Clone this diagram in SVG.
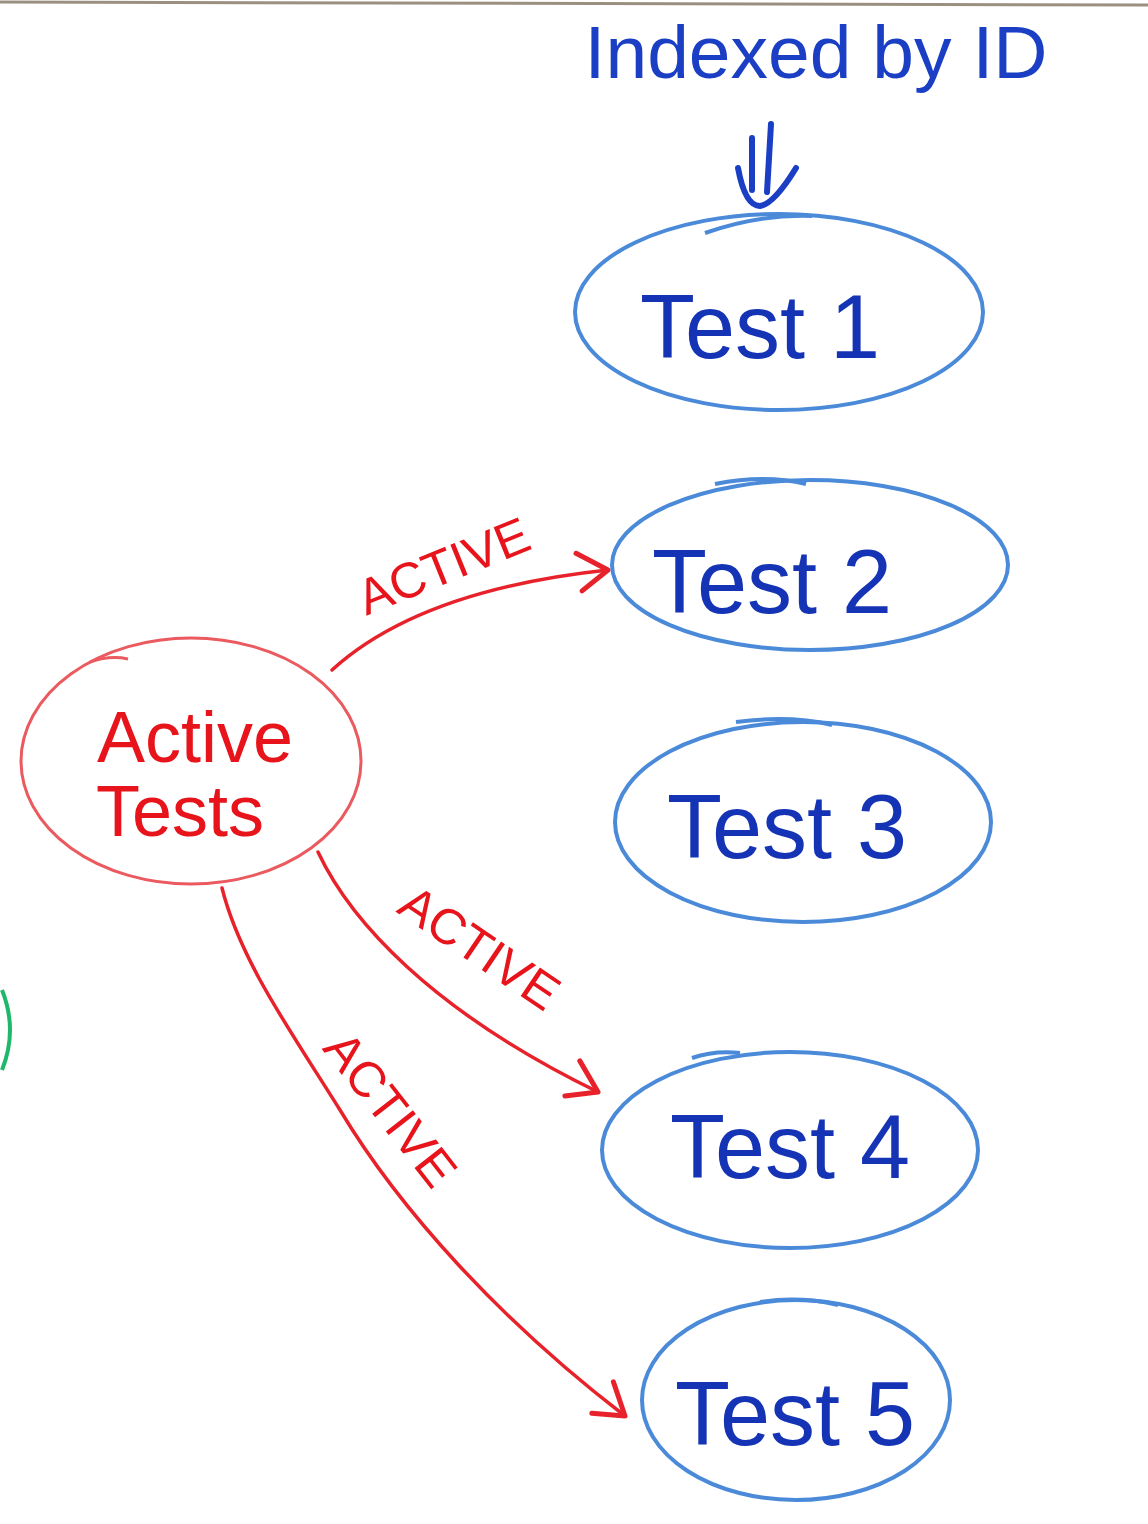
<svg xmlns="http://www.w3.org/2000/svg" width="1148" height="1524" viewBox="0 0 1148 1524">
<style>
.bg{fill:#ffffff}
.node{fill:none;stroke:#4a8ad9;stroke-width:4}
.anode{fill:none;stroke:#ea5a5f;stroke-width:3}
.ntext{font-family:"Liberation Sans",Arial,sans-serif;font-size:90px;fill:#1533b5;text-anchor:middle}
.atext{font-family:"Liberation Sans",Arial,sans-serif;font-size:72px;fill:#e8141c;text-anchor:middle}
.title{font-family:"Liberation Sans",Arial,sans-serif;font-size:75px;fill:#1a3fc4;text-anchor:middle}
.edge{fill:none;stroke:#e8222a;stroke-width:3.5;stroke-linecap:round}
.lbl{font-family:"Liberation Sans",Arial,sans-serif;font-size:50px;fill:#e8141c;text-anchor:middle}
.ink{fill:none;stroke:#1a3fc4;stroke-width:6;stroke-linecap:round;stroke-linejoin:round}
</style>
<defs>
<marker id="chev" viewBox="-40 -30 48 60" markerWidth="48" markerHeight="60" refX="0" refY="0" orient="auto" markerUnits="userSpaceOnUse">
<path d="M -30 -20 L 0 0 L -28 18" fill="none" stroke="#e8222a" stroke-width="5" stroke-linecap="round" stroke-linejoin="round"/>
</marker>
</defs>
<rect class="bg" x="0" y="0" width="1148" height="1524"/>
<line x1="0" y1="2" x2="1148" y2="5" stroke="#9a9080" stroke-width="3"/>

<g id="title">
<text class="title" x="816" y="78">Indexed by ID</text>
<path class="ink" d="M 752 138 L 752 190"/>
<path class="ink" d="M 771 124 L 767 192"/>
<path class="ink" d="M 738 168 Q 745 206 760 206 Q 774 204 796 168"/>
</g>

<g id="connectors">
<path class="edge" marker-end="url(#chev)" d="M 332 670 Q 420 590 608 570"/>
<text class="lbl" transform="translate(450,582) rotate(-22)">ACTIVE</text>
<path class="edge" marker-end="url(#chev)" d="M 318 852 C 350 920, 430 1010, 598 1092"/>
<text class="lbl" transform="translate(470,962) rotate(34)">ACTIVE</text>
<path class="edge" marker-end="url(#chev)" d="M 222 888 C 240 960, 290 1030, 340 1110 C 400 1210, 500 1320, 625 1416"/>
<text class="lbl" transform="translate(377,1120) rotate(52)">ACTIVE</text>
</g>

<g id="active-tests">
<ellipse class="anode" cx="191" cy="761" rx="170" ry="123"/>
<path class="anode" d="M 90 662 Q 110 655 128 659"/>
<text class="atext" x="195" y="762">Active</text>
<text class="atext" x="180" y="836">Tests</text>
</g>

<g id="test1">
<ellipse class="node" cx="779" cy="312" rx="204" ry="98"/>
<path class="node" d="M 705 233 Q 760 214 812 216"/>
<text class="ntext" x="760" y="358">Test 1</text>
</g>

<g id="test2">
<ellipse class="node" cx="810" cy="565" rx="198" ry="85"/>
<path class="node" d="M 715 484 Q 765 474 806 484"/>
<text class="ntext" x="772" y="613">Test 2</text>
</g>

<g id="test3">
<ellipse class="node" cx="803" cy="822" rx="188" ry="100"/>
<path class="node" d="M 736 722 Q 790 715 832 725"/>
<text class="ntext" x="787" y="858">Test 3</text>
</g>

<g id="test4">
<ellipse class="node" cx="790" cy="1150" rx="188" ry="98"/>
<path class="node" d="M 692 1058 Q 715 1050 740 1053"/>
<text class="ntext" x="790" y="1178">Test 4</text>
</g>

<g id="test5">
<ellipse class="node" cx="796" cy="1400" rx="154" ry="100"/>
<path class="node" d="M 760 1302 Q 800 1296 838 1305"/>
<text class="ntext" x="795" y="1445">Test 5</text>
</g>

<path d="M 2 990 Q 18 1030 2 1070" fill="none" stroke="#1fb86a" stroke-width="4"/>
</svg>
